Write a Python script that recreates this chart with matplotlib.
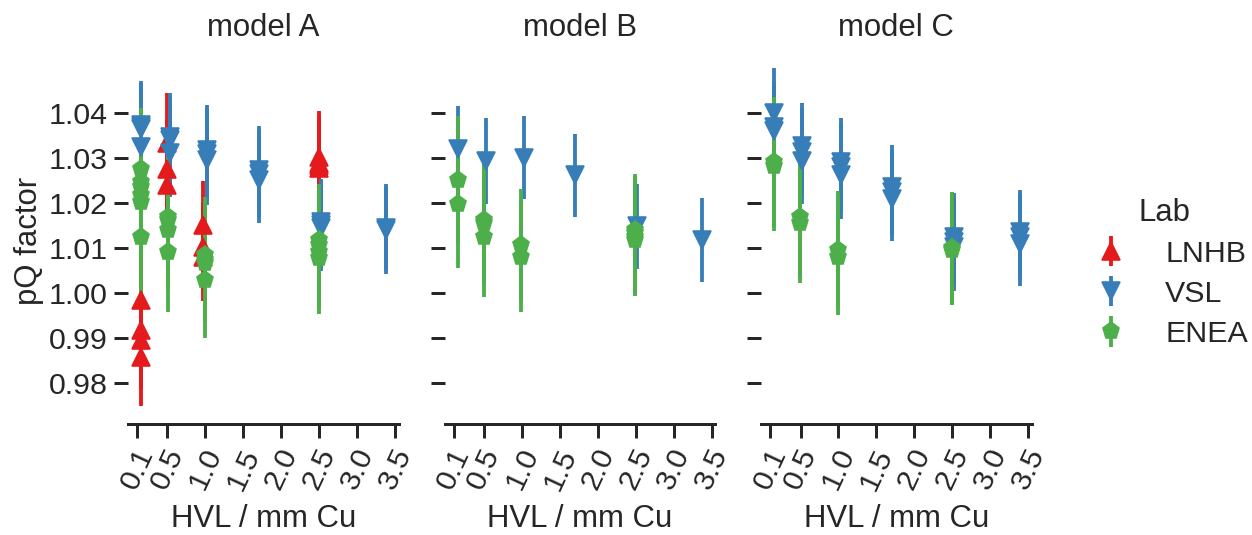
import matplotlib
matplotlib.use("Agg")
import matplotlib.pyplot as plt
import seaborn as sns

# pQ factors, one set of lists per lab
lnhb_model = ["A", "A", "A", "A", "A", "A", "A", "A", "A", "A", "A", "A", "A", "A"]
lnhb_hvl = [0.158, 0.158, 0.158, 0.158, 0.488, 0.488, 0.488, 0.973, 0.973, 0.973,
            2.494, 2.494, 2.494, 2.494]
lnhb_pq = [0.9984, 0.9917, 0.9895, 0.9857, 1.0335, 1.0275, 1.0240, 1.0151, 1.0103, 1.0080,
           1.0303, 1.0290, 1.0285, 1.0278]
lnhb_err = [0.011, 0.011, 0.011, 0.011, 0.011, 0.011, 0.011, 0.0098, 0.0098, 0.0098,
            0.0103, 0.0103, 0.0103, 0.0103]

vsl_model = ["A", "A", "A", "A", "A", "A", "A", "A", "A", "A", "A", "A", "A", "A", "A", "A", "A", "A",
             "B", "B", "B", "B", "B", "B",
             "C", "C", "C", "C", "C", "C", "C", "C", "C", "C", "C", "C", "C", "C", "C", "C", "C", "C"]
vsl_hvl = [0.158, 0.158, 0.158, 0.158, 0.533, 0.533, 0.533, 1.026, 1.026, 1.026,
           1.71, 1.71, 1.71, 2.526, 2.526, 2.526, 3.386, 3.386,
           0.157, 0.521, 1.03, 1.70, 2.513, 3.37,
           0.153, 0.153, 0.153, 0.519, 0.519, 0.519, 1.034, 1.034, 1.034,
           1.708, 1.708, 1.708, 2.523, 2.523, 2.523, 3.385, 3.385, 3.385]
vsl_pq = [1.0375, 1.0370, 1.0365, 1.0326, 1.0348, 1.0340, 1.0311, 1.0318, 1.0310, 1.0296,
          1.0274, 1.0266, 1.0252, 1.0159, 1.0151, 1.0144, 1.0145, 1.0140,
          1.0320, 1.0294, 1.0301, 1.0262, 1.0148, 1.0118,
          1.0400, 1.0370, 1.0360, 1.0327, 1.0315, 1.0294, 1.0292, 1.0281, 1.0262,
          1.0235, 1.0224, 1.0210, 1.0125, 1.0114, 1.0103, 1.0135, 1.0125, 1.0110]
vsl_err = [0.0098, 0.0098, 0.0098, 0.0098, 0.0097, 0.0097, 0.0097, 0.010, 0.010, 0.010,
           0.0097, 0.0097, 0.0097, 0.0095, 0.0095, 0.0095, 0.0097, 0.0097,
           0.0097, 0.0095, 0.0092, 0.0092, 0.0094, 0.0094,
           0.0102, 0.0102, 0.0102, 0.0097, 0.0097, 0.0097, 0.0098, 0.0098, 0.0098,
           0.0095, 0.0095, 0.0095, 0.0098, 0.0098, 0.0098, 0.0095, 0.0095, 0.0095]

enea_model = ["A", "A", "A", "A", "A", "A", "A", "A", "A", "A", "A", "A", "A", "A", "A", "A", "A", "A",
              "B", "B", "B", "B", "B", "B", "B", "B", "B", "B", "B",
              "C", "C", "C", "C", "C", "C", "C", "C"]
enea_hvl = [0.158, 0.158, 0.158, 0.158, 0.158, 0.158, 0.502, 0.502, 0.502, 0.502,
            0.996, 0.996, 0.996, 0.996, 2.503, 2.503, 2.503, 2.503,
            0.157, 0.157, 0.495, 0.495, 0.495, 0.99, 0.99, 2.49, 2.49, 2.49, 2.49,
            0.153, 0.153, 0.496, 0.496, 0.998, 0.998, 2.50, 2.50]
enea_pq = [1.0277, 1.0248, 1.0237, 1.0218, 1.0203, 1.0125, 1.0170, 1.0163, 1.0140, 1.0092,
           1.0084, 1.0073, 1.0066, 1.0029, 1.0118, 1.0107, 1.0092, 1.0077,
           1.0252, 1.0198, 1.0162, 1.0155, 1.0125, 1.0107, 1.0081, 1.0140, 1.0133, 1.0125, 1.0118,
           1.0292, 1.0283, 1.0170, 1.0155, 1.0096, 1.0081, 1.0101, 1.0096]
enea_err = [0.0135, 0.0135, 0.0135, 0.0135, 0.0135, 0.0135, 0.0134, 0.0134, 0.0134, 0.0134,
            0.013, 0.013, 0.013, 0.013, 0.0125, 0.0125, 0.0125, 0.0125,
            0.0142, 0.0142, 0.0135, 0.0135, 0.0135, 0.0124, 0.0124, 0.0125, 0.0125, 0.0125, 0.0125,
            0.0145, 0.0145, 0.0132, 0.0132, 0.013, 0.013, 0.0124, 0.0124]

models = ["A", "B", "C"]
labs = ["LNHB", "VSL", "ENEA"]
lab_data = {
    "LNHB": (lnhb_model, lnhb_hvl, lnhb_pq, lnhb_err),
    "VSL": (vsl_model, vsl_hvl, vsl_pq, vsl_err),
    "ENEA": (enea_model, enea_hvl, enea_pq, enea_err),
}
colors = {"LNHB": "#e41a1c", "VSL": "#377eb8", "ENEA": "#4daf4a"}
markers = {"LNHB": "^", "VSL": "v", "ENEA": "p"}
xticks = [0.1, 0.5, 1.0, 1.5, 2.0, 2.5, 3.0, 3.5]
yticks = [0.98, 0.99, 1.00, 1.01, 1.02, 1.03, 1.04]

sns.set_theme(style="ticks", context="talk")
plt.rcParams["font.family"] = ["Liberation Sans", "DejaVu Sans"]
plt.rcParams["xtick.labelsize"] = 19
plt.rcParams["ytick.labelsize"] = 19
plt.rcParams["axes.labelsize"] = 19.5
plt.rcParams["axes.titlesize"] = 19.5

fig, axes = plt.subplots(1, 3, sharey=True, figsize=(1252 / 115, 535 / 115), dpi=115)
fig.subplots_adjust(left=0.1022, right=0.824, bottom=0.2075, top=0.893, wspace=0.17)

handles = {}
for ax, m in zip(axes, models):
    for lab in labs:
        mod, hvl, pq, err = lab_data[lab]
        xs = [h for h, mm in zip(hvl, mod) if mm == m]
        ys = [p for p, mm in zip(pq, mod) if mm == m]
        es = [e for e, mm in zip(err, mod) if mm == m]
        if not xs:
            continue
        h = ax.errorbar(xs, ys, yerr=es, fmt=markers[lab], color=colors[lab],
                        ms=11, elinewidth=2.4, linestyle="none")
        handles[lab] = h
    ax.set_title("model " + m, pad=13)
    ax.set_xlabel("HVL / mm Cu", labelpad=6)
    ax.set_xticks(xticks)
    ax.set_xticklabels([str(t) for t in xticks], rotation=65)
    ax.set_xlim(-0.02, 3.545)
    ax.set_yticks(yticks)
    ax.set_ylim(0.9708, 1.0525)
    ax.spines["top"].set_visible(False)
    ax.spines["right"].set_visible(False)
    ax.spines["left"].set_visible(False)

axes[0].set_ylabel("pQ factor", labelpad=3)
axes[0].set_yticklabels(["%.2f" % t for t in yticks])

fig.legend([handles[l] for l in labs], labs, title="Lab", loc="center left",
           bbox_to_anchor=(0.841, 0.49), frameon=False, handletextpad=0.8,
           fontsize=19, title_fontsize=19.5, labelspacing=0.4)

plt.savefig("out.png", dpi=115)
